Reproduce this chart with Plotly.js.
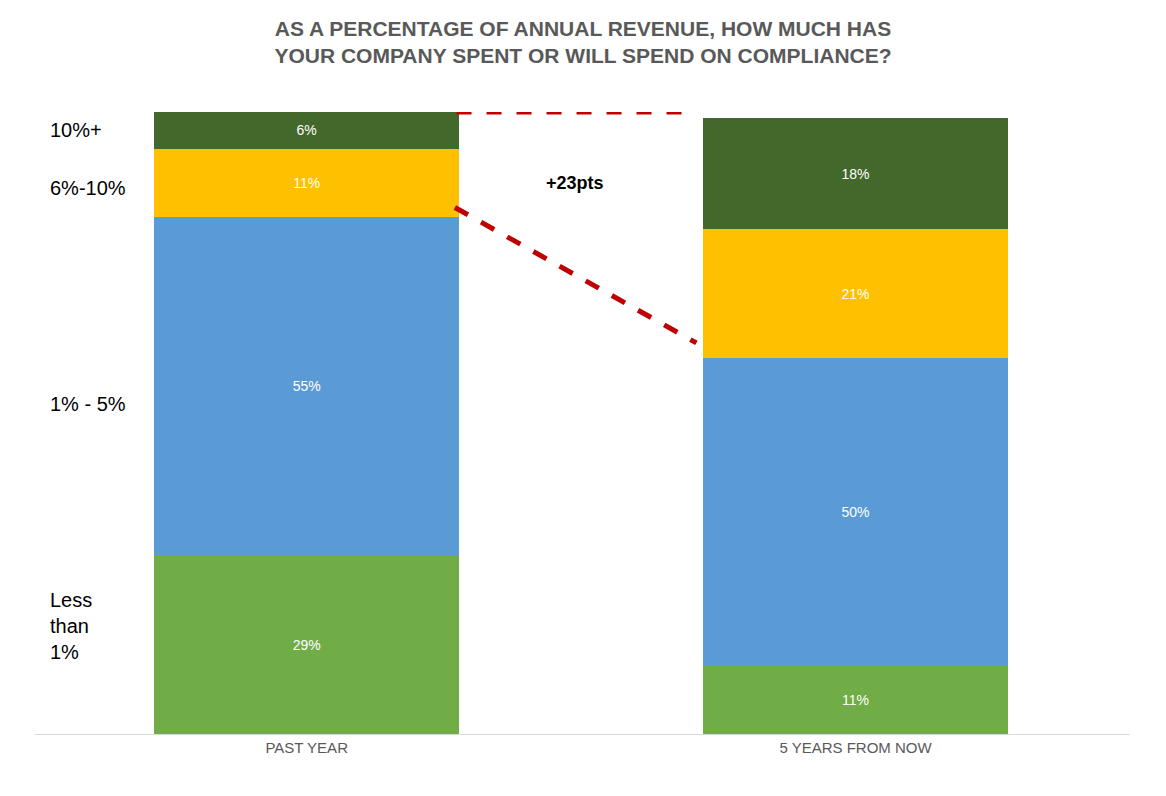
<!DOCTYPE html>
<html><head><meta charset="utf-8">
<script src="https://cdn.plot.ly/plotly-3.0.1.min.js"></script>
<style>body{margin:0}</style></head>
<body><div id="c" style="width:1166px;height:796px"></div>
<script>
const categories = ["PAST YEAR", "5 YEARS FROM NOW"];
const seriesNames = ["Less than 1%", "1% - 5%", "6%-10%", "10%+"];
const lessThan1 = [29, 11];
const oneToFive = [55, 50];
const sixToTen = [11, 21];
const tenPlus = [6, 18];
const colors = ["#70AD47", "#5B9BD5", "#FFC000", "#43682B"];
const values = [lessThan1, oneToFive, sixToTen, tenPlus];
const xs = [0, 1];
const traces = values.map((v, i) => ({
  type: "bar", x: xs, y: v, name: seriesNames[i], width: 0.556,
  marker: {color: colors[i]}, text: v.map(d => d + "%"), textposition: "inside",
  insidetextanchor: "middle", textfont: {color: "#fff", size: 14, family: "Arial"},
  hoverinfo: "skip"
}));
const dash = {color: "#C00000", width: 5, dash: "dash"};
const layout = {
  barmode: "stack", showlegend: false,
  margin: {l: 35, r: 36, t: 112, b: 62},
  paper_bgcolor: "#fff", plot_bgcolor: "#fff",
  title: {text: "<b>AS A PERCENTAGE OF ANNUAL REVENUE, HOW MUCH HAS<br>YOUR COMPANY SPENT OR WILL SPEND ON COMPLIANCE?</b>",
    x: 0.5, y: 0.955, yanchor: "top", font: {family: "Arial", size: 21, color: "#595959"}},
  xaxis: {range: [-0.495, 1.5], tickvals: xs, ticktext: categories, showgrid: false, zeroline: false,
    showline: true, linecolor: "#d9d9d9", linewidth: 1, ticks: "",
    tickfont: {family: "Arial", size: 15, color: "#595959"}},
  yaxis: {range: [0, 101], visible: false},
  shapes: [
    {type: "line", xref: "x", yref: "y", x0: 0.273, x1: 0.698, y0: 101, y1: 101, line: dash},
    {type: "line", xref: "x", yref: "y", x0: 0.27, x1: 0.71, y0: 85.5, y1: 63.5, line: dash}
  ],
  annotations: [
    {x: 0.488, y: 89.5, xref: "x", yref: "y", text: "<b>+23pts</b>", showarrow: false, font: {family: "Arial", size: 18, color: "#000"}},
    ...[["10%+", 130], ["6%-10%", 188], ["1% - 5%", 404], ["Less<br>than<br>1%", 626]].map(([t, py]) => ({
      xref: "paper", yref: "paper", x: (48 - 35) / 1095, xanchor: "left", align: "left",
      y: (734 - py) / 622, yanchor: "middle", text: t, showarrow: false,
      font: {family: "Arial", size: 20, color: "#000"}
    }))
  ]
};
Plotly.newPlot("c", traces, layout, {displayModeBar: false, staticPlot: true});
</script></body></html>
